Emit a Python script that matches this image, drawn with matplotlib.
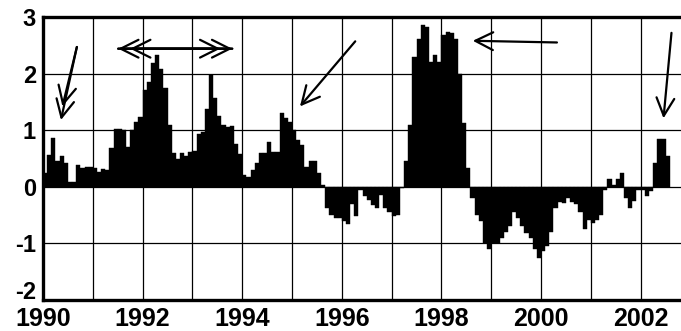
import matplotlib
matplotlib.use("Agg")
import matplotlib.pyplot as plt
import matplotlib.transforms as mtransforms
import numpy as np

# Monthly index values, Jan..Dec of each year
v1990 = [0.24, 0.56, 0.86, 0.45, 0.54, 0.42, 0.08, 0.08, 0.39, 0.33, 0.35, 0.35]
v1991 = [0.33, 0.27, 0.31, 0.30, 0.68, 1.02, 1.02, 1.00, 0.71, 1.00, 1.15, 1.24]
v1992 = [1.71, 1.86, 2.18, 2.33, 2.09, 1.74, 1.10, 0.60, 0.50, 0.60, 0.55, 0.62]
v1993 = [0.64, 0.93, 0.96, 1.37, 1.98, 1.57, 1.25, 1.10, 1.05, 1.08, 0.76, 0.58]
v1994 = [0.20, 0.17, 0.30, 0.42, 0.59, 0.59, 0.80, 0.62, 0.62, 1.31, 1.21, 1.15]
v1995 = [1.00, 0.83, 0.74, 0.35, 0.45, 0.45, 0.24, 0.04, -0.38, -0.50, -0.55, -0.55]
v1996 = [-0.60, -0.65, -0.30, -0.52, -0.05, -0.17, -0.23, -0.32, -0.38, -0.14, -0.38, -0.45]
v1997 = [-0.52, -0.50, -0.02, 0.45, 1.09, 2.30, 2.62, 2.86, 2.83, 2.21, 2.33, 2.21]
v1998 = [2.68, 2.73, 2.71, 2.62, 2.00, 1.13, 0.33, -0.20, -0.49, -0.61, -1.00, -1.10]
v1999 = [-1.00, -1.00, -0.90, -0.79, -0.70, -0.44, -0.55, -0.70, -0.82, -0.90, -1.10, -1.26]
v2000 = [-1.14, -1.05, -0.79, -0.38, -0.26, -0.29, -0.20, -0.26, -0.30, -0.45, -0.75, -0.58]
v2001 = [-0.64, -0.58, -0.50, -0.06, 0.13, 0.04, 0.13, 0.25, -0.20, -0.37, -0.25, -0.05]
v2002 = [-0.05, -0.16, -0.08, 0.42, 0.85, 0.84, 0.54]

start_year = 1990
x_major = [1990, 1992, 1994, 1996, 1998, 2000, 2002]
x_labels = ["1990", "1992", "1994", "1996", "1998", "2000", "2002"]
y_ticks = [-2, -1, 0, 1, 2, 3]
y_labels = ["-2", "-1", "0", "1", "2", "3"]

values = np.array(v1990 + v1991 + v1992 + v1993 + v1994 + v1995 + v1996 +
                  v1997 + v1998 + v1999 + v2000 + v2001 + v2002)
t = start_year + np.arange(len(values)) / 12.0

plt.rcParams['axes.unicode_minus'] = False
plt.rcParams['font.family'] = ['Liberation Sans', 'DejaVu Sans']

fig = plt.figure(figsize=(6.81, 3.31), dpi=100)
ax = fig.add_axes([43/681, 1 - 300/331, 1 - 43/681, 283/331])

ax.bar(t, values, width=1/12, align='edge', color='black', edgecolor='black',
       linewidth=0.3, zorder=3)

ax.set_xlim(1990, 1990 + 638/49.8)
ax.set_ylim(-2, 3)
ax.set_xticks(x_major)
ax.set_xticklabels(x_labels)
ax.set_xticks(np.arange(1991, 2003, 2), minor=True)
ax.set_yticks(y_ticks)
ax.set_yticklabels(y_labels)
ax.grid(True, which='both', color='black', linewidth=0.9, zorder=1)
ax.set_axisbelow(True)
ax.tick_params(axis='both', which='both', length=0)
ax.tick_params(axis='x', labelsize=18, pad=5)
ax.tick_params(axis='y', labelsize=17, pad=5)
for lab in ax.get_xticklabels() + ax.get_yticklabels():
    lab.set_fontweight('bold')

# nudge the bottom y label ("-2") up a little so it clears "1990"
bottom_lab = ax.get_yticklabels()[0]
bottom_lab.set_verticalalignment('bottom')
bottom_lab.set_transform(bottom_lab.get_transform() +
                         mtransforms.ScaledTranslation(0, -4/100, fig.dpi_scale_trans))

for s in ['top', 'left', 'bottom']:
    ax.spines[s].set_linewidth(2.4)
ax.spines['right'].set_visible(False)

head = "->,head_length=0.8,head_width=0.4"
ap = dict(arrowstyle=head, lw=1.6, color='black', mutation_scale=16,
          shrinkA=0, shrinkB=0)

# arrow near 1990 (double head)
ax.annotate("", xy=(1990.36, 1.18), xytext=(1990.68, 2.47), arrowprops=ap)
ax.annotate("", xy=(1990.39, 1.42), xytext=(1990.68, 2.47), arrowprops=ap)
# double-headed horizontal arrow 1991.5 - 1993.8 (double chevrons)
ax.annotate("", xy=(1991.51, 2.44), xytext=(1993.80, 2.44), arrowprops=ap)
ax.annotate("", xy=(1991.75, 2.44), xytext=(1993.80, 2.44), arrowprops=ap)
ax.annotate("", xy=(1993.80, 2.44), xytext=(1991.51, 2.44), arrowprops=ap)
ax.annotate("", xy=(1993.56, 2.44), xytext=(1991.51, 2.44), arrowprops=ap)
# arrow near 1995
ax.annotate("", xy=(1995.16, 1.42), xytext=(1996.27, 2.57), arrowprops=ap)
# arrow pointing left near 1998
ax.annotate("", xy=(1998.63, 2.58), xytext=(2000.32, 2.55), arrowprops=ap)
# arrow pointing down near 2002.5
ax.annotate("", xy=(2002.46, 1.21), xytext=(2002.62, 2.72), arrowprops=ap)

fig.savefig("out.png", dpi=100)
